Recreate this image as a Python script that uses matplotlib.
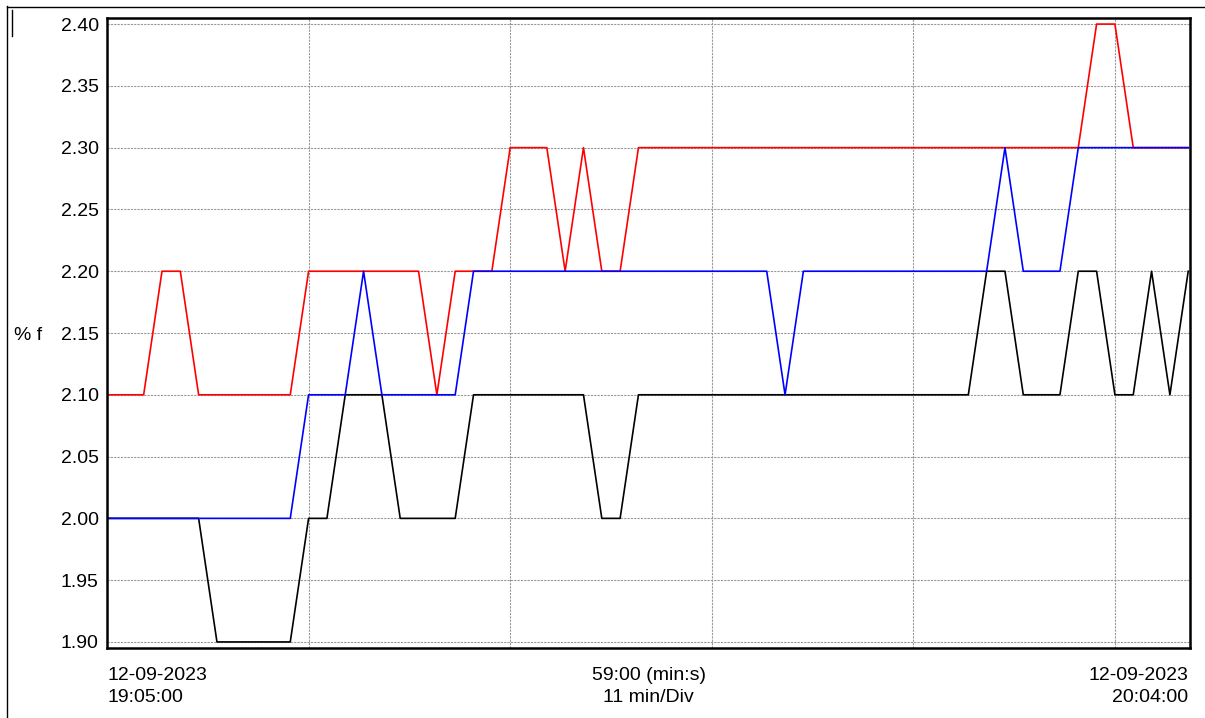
import matplotlib.pyplot as plt
from matplotlib.lines import Line2D

plt.rcParams["font.family"] = ["Liberation Sans", "DejaVu Sans"]

# one sample per minute, 19:05:00 .. 20:04:00
minutes = list(range(60))

red = [2.10, 2.10, 2.10, 2.20, 2.20, 2.10, 2.10, 2.10, 2.10, 2.10,
       2.10, 2.20, 2.20, 2.20, 2.20, 2.20, 2.20, 2.20, 2.10, 2.20,
       2.20, 2.20, 2.30, 2.30, 2.30, 2.20, 2.30, 2.20, 2.20, 2.30,
       2.30, 2.30, 2.30, 2.30, 2.30, 2.30, 2.30, 2.30, 2.30, 2.30,
       2.30, 2.30, 2.30, 2.30, 2.30, 2.30, 2.30, 2.30, 2.30, 2.30,
       2.30, 2.30, 2.30, 2.30, 2.40, 2.40, 2.30, 2.30, 2.30, 2.30]

blue = [2.00, 2.00, 2.00, 2.00, 2.00, 2.00, 2.00, 2.00, 2.00, 2.00,
        2.00, 2.10, 2.10, 2.10, 2.20, 2.10, 2.10, 2.10, 2.10, 2.10,
        2.20, 2.20, 2.20, 2.20, 2.20, 2.20, 2.20, 2.20, 2.20, 2.20,
        2.20, 2.20, 2.20, 2.20, 2.20, 2.20, 2.20, 2.10, 2.20, 2.20,
        2.20, 2.20, 2.20, 2.20, 2.20, 2.20, 2.20, 2.20, 2.20, 2.30,
        2.20, 2.20, 2.20, 2.30, 2.30, 2.30, 2.30, 2.30, 2.30, 2.30]

black = [2.00, 2.00, 2.00, 2.00, 2.00, 2.00, 1.90, 1.90, 1.90, 1.90,
         1.90, 2.00, 2.00, 2.10, 2.10, 2.10, 2.00, 2.00, 2.00, 2.00,
         2.10, 2.10, 2.10, 2.10, 2.10, 2.10, 2.10, 2.00, 2.00, 2.10,
         2.10, 2.10, 2.10, 2.10, 2.10, 2.10, 2.10, 2.10, 2.10, 2.10,
         2.10, 2.10, 2.10, 2.10, 2.10, 2.10, 2.10, 2.10, 2.20, 2.20,
         2.10, 2.10, 2.10, 2.20, 2.20, 2.10, 2.10, 2.20, 2.10, 2.20]

y_ticks = [1.90, 1.95, 2.00, 2.05, 2.10, 2.15, 2.20, 2.25, 2.30, 2.35, 2.40]
x_grid = [11, 22, 33, 44, 55]

fig = plt.figure(figsize=(12.05, 7.18), dpi=100)
ax = fig.add_axes([0.0888, 0.0975, 0.8988, 0.8774])

ax.plot(minutes, black, color="#000000", lw=1.2)
ax.plot(minutes, red, color="#ff0000", lw=1.2)
ax.plot(minutes, blue, color="#0000ff", lw=1.2)

ax.set_xlim(0, 59.1)
ax.set_ylim(1.8951, 2.4049)
ax.set_yticks(y_ticks)
ax.set_yticklabels([f"{v:.2f}" for v in y_ticks], fontsize=14)
ax.set_xticks([])
ax.tick_params(axis="y", length=0, pad=6)

for v in y_ticks:
    ax.axhline(v, color="#999999", lw=0.8, ls=(0, (2, 1)), zorder=0)
for v in x_grid:
    ax.axvline(v, color="#999999", lw=0.8, ls=(0, (2, 1)), zorder=0)

for s in ax.spines.values():
    s.set_linewidth(1.8)

# axis annotations below the plot
ax.text(0, -0.03, "12-09-2023\n19:05:00", transform=ax.transAxes,
        ha="left", va="top", fontsize=14, linespacing=1.4)
ax.text(0.5, -0.03, "59:00 (min:s)\n11 min/Div", transform=ax.transAxes,
        ha="center", va="top", fontsize=14, linespacing=1.4)
ax.text(0.998, -0.03, "12-09-2023\n20:04:00", transform=ax.transAxes,
        ha="right", va="top", fontsize=14, linespacing=1.4)
fig.text(14 / 1205, 1 - 335 / 718, "% f", ha="left", va="center", fontsize=14)

# outer frame lines
fig.add_artist(Line2D([7.5 / 1205, 7.5 / 1205], [0, 1 - 6 / 718], color="black", lw=1.0))
fig.add_artist(Line2D([7.5 / 1205, 1], [1 - 6.5 / 718, 1 - 6.5 / 718], color="black", lw=1.0))
fig.add_artist(Line2D([12.3 / 1205, 12.3 / 1205], [1 - 10 / 718, 1 - 36 / 718], color="black", lw=1.0))

fig.savefig("out.png", dpi=100)
